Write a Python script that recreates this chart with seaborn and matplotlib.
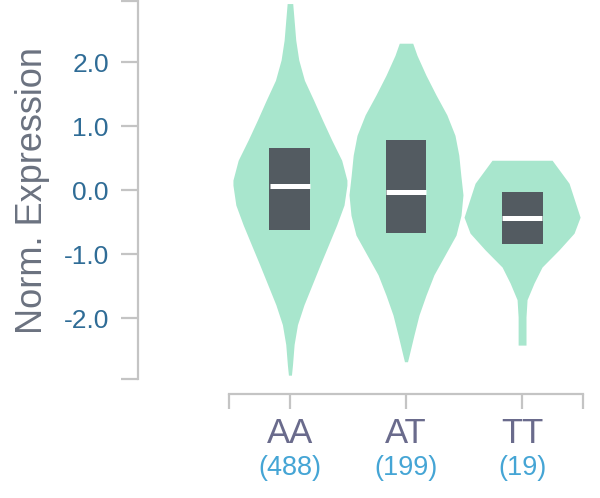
import matplotlib
matplotlib.use("Agg")
import matplotlib.pyplot as plt
from matplotlib.ticker import FixedLocator
import numpy as np
import seaborn as sns

genotypes = ["AA", "AT", "TT"]
counts = [488, 199, 19]

# violin outlines: expression level and half width
aa_y = [2.92, 2.66, 2.35, 2.04, 1.72, 1.41, 1.10, 0.79, 0.47, 0.16, 0.08, -0.23, -0.54,
        -0.86, -1.17, -1.48, -1.79, -2.10, -2.41, -2.73, -2.89]
aa_w = [0.024, 0.036, 0.050, 0.076, 0.125, 0.204, 0.280, 0.359, 0.446, 0.491, 0.491, 0.466,
        0.403, 0.330, 0.259, 0.190, 0.121, 0.065, 0.036, 0.022, 0.013]
at_y = [2.30, 2.11, 1.80, 1.49, 1.18, 0.86, 0.55, 0.24, -0.07, -0.39, -0.70, -1.01, -1.32,
        -1.64, -1.95, -2.26, -2.57, -2.68]
at_w = [0.058, 0.095, 0.172, 0.259, 0.352, 0.422, 0.455, 0.472, 0.491, 0.474, 0.431, 0.336,
        0.241, 0.172, 0.112, 0.069, 0.028, 0.013]
tt_y = [0.47, 0.11, -0.42, -0.67, -0.93, -1.20, -1.45, -1.71, -1.98, -2.42]
tt_w = [0.259, 0.405, 0.500, 0.448, 0.319, 0.172, 0.103, 0.043, 0.034, 0.034]

q1 = [-0.62, -0.67, -0.84]
median = [0.07, -0.03, -0.44]
q3 = [0.66, 0.79, -0.02]

violin_color = "#a8e6cd"
box_color = "#535b61"
axis_color = "#c4c4c4"

sns.set_style("white")
plt.rcParams["font.family"] = ["Liberation Sans", "DejaVu Sans"]

fig = plt.figure(figsize=(6.0, 4.98), dpi=100)
ax = fig.add_axes([229 / 600, 1 - 379 / 498, 354 / 600, 378 / 498])

profiles = [(aa_y, aa_w), (at_y, at_w), (tt_y, tt_w)]
for i, (ys, ws) in enumerate(profiles):
    ys = np.array(ys)
    ws = np.array(ws)
    ax.fill_betweenx(ys, i - ws, i + ws, color=violin_color, linewidth=0)

pos = np.arange(len(genotypes))
ax.bar(pos, np.array(q3) - np.array(q1), bottom=q1, width=0.353,
       color=box_color, linewidth=0)
ax.hlines(median, pos - 0.176, pos + 0.176, color="white", linewidth=3.6)

ax.set_xlim(-0.525, 2.525)
ax.set_ylim(-2.95, 2.96)

sns.despine(ax=ax, top=True, right=True)
ax.spines["left"].set_position(("outward", 65.5))
ax.spines["bottom"].set_position(("outward", 11))
for side in ["left", "bottom"]:
    ax.spines[side].set_color(axis_color)
    ax.spines[side].set_linewidth(1.6)

ax.set_yticks([-2, -1, 0, 1, 2])
ax.set_yticklabels(["-2.0", "-1.0", "0.0", "1.0", "2.0"], fontsize=19, color="#2f6c96")
ax.yaxis.set_minor_locator(FixedLocator([-2.95, 2.96]))
ax.set_xticks(pos)
ax.set_xticklabels(genotypes, fontsize=25, color="#6a6b8c")
ax.xaxis.set_minor_locator(FixedLocator([-0.525, 2.525]))
ax.tick_params(axis="y", which="both", length=12, width=1.6, color=axis_color, pad=9, left=True)
ax.tick_params(axis="x", which="both", length=11, width=1.6, color=axis_color, pad=5, bottom=True)

for i, n in enumerate(counts):
    ax.text(i, -0.235, f"({n})", transform=ax.get_xaxis_transform(),
            ha="center", va="center", fontsize=19.5, color="#45a5d5")

ax.set_ylabel("Norm. Expression", fontsize=26, color="#6b7280", labelpad=10)

fig.savefig("out.png", dpi=100)
